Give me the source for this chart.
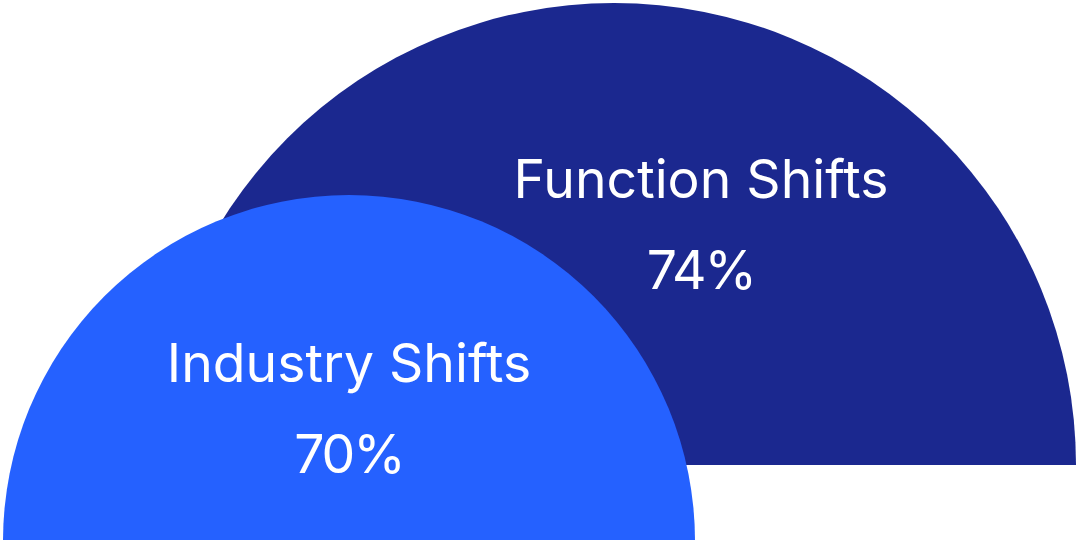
<!DOCTYPE html>
<meta charset="utf-8" />
<script src="https://d3js.org/d3.v7.min.js"></script>
<style>
  html, body { margin: 0; padding: 0; background: #fff; overflow: hidden; }
  svg { display: block; }
</style>
<body>
  <div id="chart"></div>
  <script>
    // data
    const labels = ["Function Shifts", "Industry Shifts"];
    const values = [74, 70];

    // layout (drawn back to front)
    const colors = ["#1b288f", "#2561ff"];
    const centersX = [614, 349];
    const baselines = [465, 541];
    const radii = [462, 346];
    const textX = [701, 349];
    const textY = [198, 382];

    const width = 1076;
    const height = 540;

    const svg = d3
      .select("#chart")
      .append("svg")
      .attr("width", width)
      .attr("height", height);

    const halfCircle = d3
      .arc()
      .innerRadius(0)
      .startAngle(-Math.PI / 2)
      .endAngle(Math.PI / 2);

    const pct = d3.format(".0%");

    const groups = svg
      .selectAll("g.half")
      .data(labels.map((d, i) => ({ label: d, value: values[i], i: i })))
      .enter()
      .append("g")
      .attr("class", "half");

    groups
      .append("path")
      .attr("transform", (d) => `translate(${centersX[d.i]},${baselines[d.i]})`)
      .attr("d", (d) => halfCircle.outerRadius(radii[d.i])())
      .attr("fill", (d) => colors[d.i]);

    groups
      .append("text")
      .attr("x", (d) => textX[d.i])
      .attr("y", (d) => textY[d.i])
      .attr("text-anchor", "middle")
      .attr("font-family", "Inter, sans-serif")
      .attr("font-size", "53.5px")
      .attr("fill", "#fff")
      .text((d) => d.label);

    // percent values, slightly tighter
    groups
      .append("text")
      .attr("x", (d) => textX[d.i])
      .attr("y", (d) => textY[d.i] + 91)
      .attr("text-anchor", "middle")
      .attr("font-family", "Inter, sans-serif")
      .attr("font-size", "53.5px")
      .attr("letter-spacing", "-2px")
      .attr("fill", "#fff")
      .text((d) => pct(d.value / 100));
  </script>
</body>
